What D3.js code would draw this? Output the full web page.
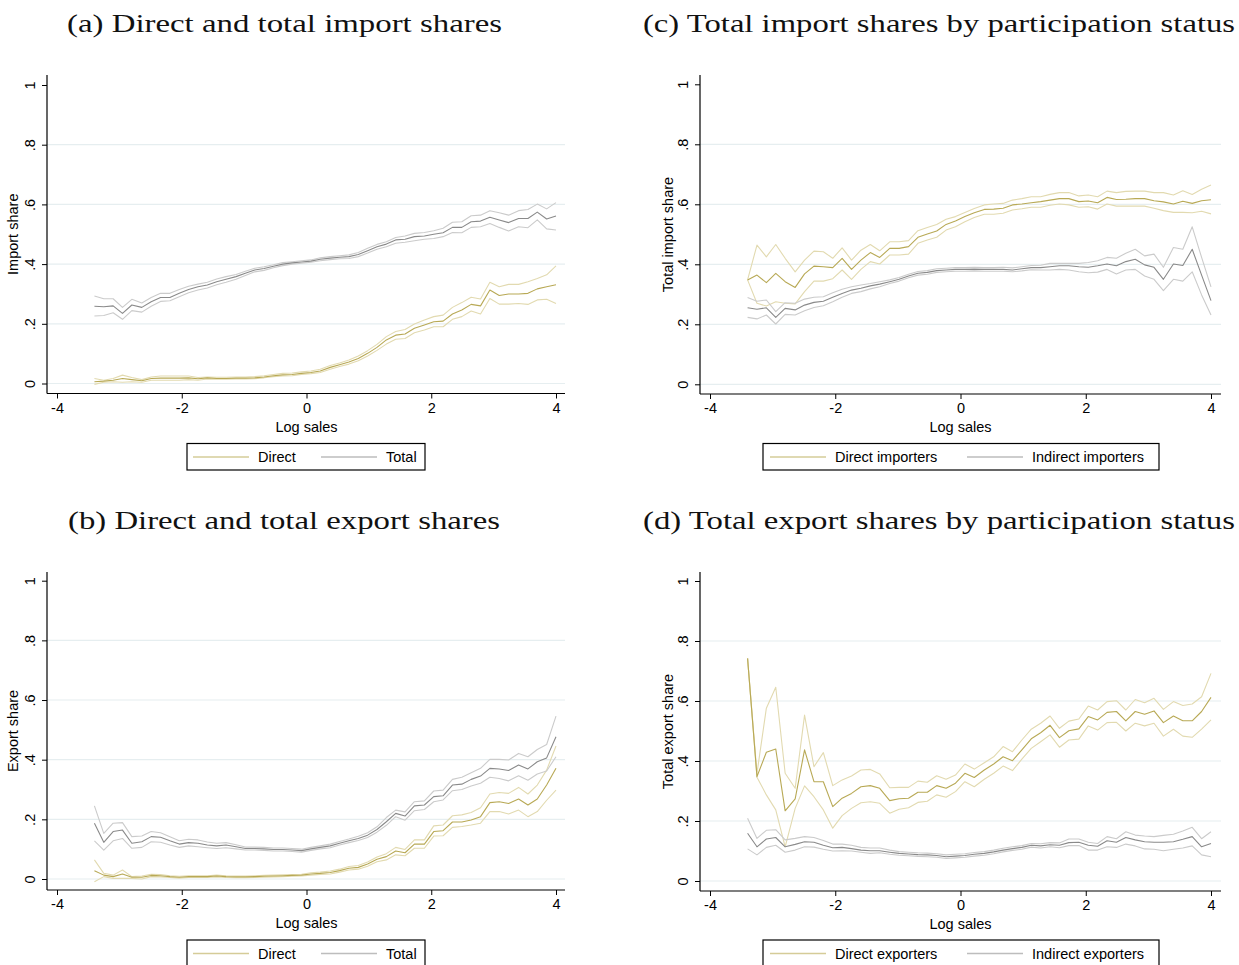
<!DOCTYPE html>
<html>
<head>
<meta charset="utf-8">
<script src="https://cdn.jsdelivr.net/npm/d3@7"></script>
<style>
  html, body { margin: 0; padding: 0; background: #ffffff; }
  svg { display: block; }
</style>
</head>
<body>
<svg id="fig" width="1239" height="965"></svg>
<script>
// Bin midpoints of log sales (50 bins)
const xs = [-3.40, -3.25, -3.10, -2.95, -2.80, -2.64, -2.49, -2.34, -2.19, -2.04,
            -1.89, -1.74, -1.59, -1.44, -1.29, -1.13, -0.98, -0.83, -0.68, -0.53,
            -0.38, -0.23, -0.08, 0.07, 0.22, 0.38, 0.53, 0.68, 0.83, 0.98,
            1.13, 1.28, 1.43, 1.58, 1.73, 1.89, 2.04, 2.19, 2.34, 2.49,
            2.64, 2.79, 2.94, 3.09, 3.24, 3.40, 3.55, 3.70, 3.85, 4.00];

// (a) Direct and total import shares
const aDirect = [0.006,0.008,0.011,0.017,0.013,0.009,0.017,0.018,0.018,0.018,
                 0.019,0.016,0.019,0.017,0.017,0.018,0.018,0.019,0.022,0.026,
                 0.029,0.030,0.034,0.037,0.042,0.054,0.063,0.072,0.084,0.101,
                 0.121,0.146,0.162,0.166,0.185,0.196,0.207,0.209,0.233,0.246,
                 0.265,0.260,0.313,0.295,0.300,0.300,0.302,0.317,0.324,0.331];
const aDirectHi = [0.017,0.011,0.017,0.028,0.020,0.013,0.022,0.025,0.025,0.025,
                   0.025,0.020,0.022,0.021,0.021,0.022,0.022,0.023,0.026,0.030,
                   0.034,0.035,0.039,0.042,0.048,0.060,0.069,0.079,0.092,0.110,
                   0.131,0.157,0.174,0.181,0.199,0.213,0.224,0.229,0.255,0.271,
                   0.289,0.283,0.339,0.324,0.332,0.332,0.341,0.352,0.364,0.394];
const aDirectLo = [-0.003,0.004,0.006,0.004,0.006,0.004,0.011,0.011,0.011,0.011,
                   0.013,0.011,0.015,0.014,0.014,0.015,0.015,0.016,0.019,0.023,
                   0.025,0.026,0.030,0.033,0.037,0.048,0.057,0.065,0.076,0.092,
                   0.111,0.132,0.148,0.151,0.170,0.179,0.190,0.190,0.215,0.224,
                   0.243,0.233,0.285,0.266,0.266,0.268,0.265,0.280,0.282,0.268];
const aTotal = [0.259,0.257,0.260,0.235,0.263,0.255,0.274,0.288,0.288,0.302,
                0.315,0.324,0.330,0.341,0.349,0.358,0.369,0.380,0.385,0.393,
                0.400,0.404,0.407,0.410,0.416,0.420,0.423,0.425,0.432,0.445,
                0.458,0.467,0.481,0.483,0.492,0.494,0.500,0.505,0.523,0.523,
                0.542,0.544,0.557,0.548,0.539,0.553,0.553,0.574,0.551,0.561];
const aTotalHi = [0.293,0.284,0.284,0.255,0.282,0.270,0.288,0.302,0.302,0.315,
                  0.326,0.333,0.339,0.350,0.358,0.365,0.376,0.386,0.391,0.398,
                  0.405,0.408,0.411,0.414,0.421,0.425,0.428,0.431,0.439,0.453,
                  0.466,0.475,0.489,0.494,0.503,0.506,0.512,0.520,0.540,0.542,
                  0.562,0.564,0.579,0.572,0.564,0.579,0.583,0.601,0.585,0.606];
const aTotalLo = [0.226,0.228,0.237,0.215,0.244,0.239,0.259,0.275,0.277,0.291,
                  0.304,0.313,0.320,0.331,0.339,0.349,0.362,0.374,0.379,0.388,
                  0.395,0.400,0.403,0.406,0.411,0.415,0.418,0.419,0.425,0.437,
                  0.450,0.458,0.470,0.473,0.478,0.483,0.486,0.492,0.506,0.505,
                  0.523,0.525,0.536,0.523,0.511,0.525,0.522,0.548,0.518,0.514];

// (b) Direct and total export shares
const bDirect = [0.028,0.013,0.008,0.017,0.006,0.006,0.012,0.011,0.008,0.006,
                 0.008,0.008,0.008,0.010,0.008,0.007,0.007,0.008,0.009,0.010,
                 0.011,0.012,0.013,0.017,0.019,0.022,0.028,0.036,0.039,0.050,
                 0.066,0.075,0.094,0.088,0.117,0.117,0.159,0.162,0.191,0.191,
                 0.198,0.209,0.256,0.259,0.253,0.268,0.248,0.268,0.315,0.371];
const bDirectHi = [0.064,0.019,0.013,0.030,0.008,0.010,0.016,0.015,0.011,0.009,
                   0.011,0.011,0.011,0.013,0.011,0.010,0.010,0.011,0.012,0.013,
                   0.014,0.015,0.016,0.021,0.023,0.027,0.033,0.042,0.045,0.057,
                   0.074,0.085,0.106,0.099,0.131,0.131,0.178,0.181,0.212,0.215,
                   0.223,0.239,0.285,0.290,0.287,0.307,0.285,0.315,0.365,0.446];
const bDirectLo = [-0.009,0.008,0.002,0.002,0.002,0.000,0.008,0.007,0.005,0.003,
                   0.005,0.005,0.005,0.007,0.005,0.004,0.004,0.005,0.006,0.007,
                   0.008,0.009,0.010,0.013,0.015,0.017,0.023,0.030,0.033,0.043,
                   0.058,0.064,0.081,0.078,0.103,0.103,0.144,0.145,0.173,0.176,
                   0.181,0.187,0.226,0.226,0.218,0.231,0.209,0.226,0.264,0.298];
const bTotal = [0.187,0.123,0.159,0.164,0.120,0.125,0.142,0.140,0.128,0.117,
                0.122,0.120,0.114,0.111,0.114,0.108,0.102,0.102,0.101,0.099,
                0.099,0.097,0.095,0.101,0.106,0.111,0.120,0.128,0.136,0.147,
                0.166,0.192,0.220,0.211,0.245,0.248,0.276,0.279,0.315,0.318,
                0.334,0.345,0.371,0.369,0.364,0.382,0.369,0.393,0.406,0.477];
const bTotalHi = [0.245,0.153,0.187,0.189,0.142,0.144,0.159,0.155,0.142,0.128,
                  0.133,0.131,0.124,0.120,0.122,0.115,0.107,0.107,0.106,0.104,
                  0.104,0.102,0.100,0.106,0.111,0.117,0.126,0.134,0.143,0.155,
                  0.175,0.206,0.231,0.225,0.259,0.262,0.295,0.298,0.334,0.341,
                  0.356,0.371,0.401,0.401,0.399,0.421,0.410,0.434,0.451,0.546];
const bTotalLo = [0.128,0.097,0.128,0.136,0.103,0.106,0.125,0.123,0.114,0.106,
                  0.111,0.108,0.105,0.102,0.105,0.101,0.097,0.097,0.096,0.094,
                  0.094,0.092,0.090,0.096,0.101,0.105,0.114,0.122,0.129,0.139,
                  0.157,0.180,0.209,0.197,0.229,0.233,0.259,0.265,0.296,0.300,
                  0.312,0.321,0.341,0.337,0.329,0.346,0.331,0.352,0.362,0.410];

// (c) Total import shares by participation status
const cDirect = [0.348,0.364,0.339,0.370,0.342,0.323,0.368,0.394,0.392,0.389,
                 0.420,0.383,0.414,0.439,0.423,0.453,0.453,0.459,0.490,0.501,
                 0.511,0.533,0.544,0.559,0.572,0.583,0.584,0.587,0.598,0.601,
                 0.605,0.609,0.614,0.619,0.619,0.609,0.611,0.605,0.623,0.616,
                 0.617,0.619,0.619,0.612,0.608,0.601,0.610,0.603,0.612,0.615];
const cDirectHi = [0.348,0.464,0.425,0.466,0.420,0.375,0.414,0.444,0.442,0.420,
                   0.455,0.414,0.447,0.466,0.445,0.475,0.475,0.479,0.512,0.523,
                   0.533,0.550,0.559,0.573,0.586,0.598,0.601,0.603,0.614,0.619,
                   0.625,0.625,0.633,0.639,0.639,0.628,0.631,0.625,0.644,0.639,
                   0.643,0.644,0.644,0.639,0.639,0.631,0.645,0.633,0.650,0.664];
const cDirectLo = [0.348,0.270,0.261,0.275,0.270,0.268,0.309,0.344,0.344,0.352,
                   0.381,0.350,0.383,0.409,0.401,0.431,0.431,0.434,0.470,0.481,
                   0.490,0.514,0.525,0.542,0.556,0.567,0.567,0.570,0.581,0.585,
                   0.590,0.590,0.597,0.601,0.598,0.590,0.592,0.584,0.601,0.594,
                   0.594,0.594,0.594,0.587,0.579,0.573,0.573,0.572,0.577,0.568];
const cIndirect = [0.255,0.250,0.255,0.223,0.253,0.248,0.264,0.273,0.277,0.290,
                   0.303,0.314,0.320,0.328,0.334,0.342,0.350,0.361,0.370,0.373,
                   0.379,0.381,0.383,0.383,0.384,0.383,0.383,0.383,0.381,0.385,
                   0.389,0.389,0.392,0.395,0.395,0.392,0.390,0.395,0.401,0.395,
                   0.409,0.417,0.398,0.390,0.350,0.401,0.396,0.450,0.364,0.279];
const cIndirectHi = [0.289,0.277,0.281,0.242,0.272,0.270,0.284,0.290,0.292,0.305,
                     0.317,0.325,0.331,0.336,0.342,0.348,0.356,0.367,0.376,0.379,
                     0.385,0.387,0.389,0.389,0.390,0.389,0.389,0.390,0.388,0.392,
                     0.396,0.397,0.403,0.403,0.403,0.403,0.406,0.412,0.423,0.420,
                     0.437,0.450,0.428,0.434,0.390,0.456,0.450,0.525,0.423,0.325];
const cIndirectLo = [0.223,0.218,0.231,0.201,0.233,0.231,0.245,0.256,0.262,0.275,
                     0.290,0.303,0.309,0.318,0.325,0.336,0.344,0.355,0.364,0.367,
                     0.373,0.375,0.377,0.377,0.378,0.377,0.377,0.377,0.375,0.378,
                     0.382,0.381,0.381,0.383,0.381,0.375,0.372,0.374,0.383,0.368,
                     0.381,0.383,0.361,0.350,0.312,0.350,0.344,0.375,0.298,0.231];

// (d) Total export shares by participation status
const dDirect = [0.742,0.348,0.429,0.440,0.234,0.274,0.437,0.331,0.331,0.248,
                 0.276,0.292,0.314,0.318,0.309,0.268,0.274,0.276,0.296,0.296,
                 0.318,0.309,0.326,0.359,0.345,0.370,0.390,0.414,0.401,0.437,
                 0.474,0.494,0.519,0.478,0.501,0.507,0.548,0.537,0.562,0.565,
                 0.534,0.565,0.556,0.567,0.528,0.550,0.534,0.534,0.565,0.612];
const dDirectHi = [0.742,0.359,0.576,0.646,0.359,0.309,0.553,0.381,0.428,0.318,
                   0.337,0.350,0.370,0.372,0.357,0.311,0.312,0.312,0.333,0.329,
                   0.351,0.339,0.353,0.390,0.373,0.394,0.414,0.448,0.431,0.470,
                   0.506,0.526,0.550,0.509,0.533,0.540,0.583,0.570,0.598,0.601,
                   0.570,0.605,0.594,0.609,0.572,0.598,0.585,0.590,0.614,0.692];
const dDirectLo = [0.742,0.346,0.287,0.237,0.114,0.242,0.317,0.281,0.237,0.176,
                   0.218,0.242,0.261,0.264,0.259,0.226,0.239,0.244,0.262,0.266,
                   0.287,0.279,0.298,0.331,0.314,0.339,0.359,0.383,0.368,0.406,
                   0.442,0.464,0.487,0.446,0.470,0.473,0.517,0.503,0.528,0.529,
                   0.500,0.526,0.517,0.526,0.483,0.506,0.483,0.479,0.506,0.537];
const dIndirect = [0.159,0.114,0.140,0.145,0.114,0.122,0.131,0.129,0.119,0.111,
                   0.112,0.108,0.103,0.101,0.101,0.096,0.092,0.090,0.088,0.087,
                   0.085,0.081,0.083,0.085,0.089,0.092,0.097,0.103,0.108,0.112,
                   0.119,0.117,0.121,0.119,0.128,0.129,0.119,0.116,0.134,0.129,
                   0.145,0.137,0.131,0.129,0.129,0.131,0.139,0.148,0.114,0.125];
const dIndirectHi = [0.209,0.142,0.169,0.171,0.137,0.142,0.148,0.145,0.135,0.123,
                     0.123,0.119,0.112,0.110,0.110,0.103,0.098,0.096,0.094,0.093,
                     0.091,0.087,0.089,0.091,0.095,0.098,0.103,0.109,0.114,0.118,
                     0.125,0.124,0.128,0.127,0.140,0.140,0.129,0.125,0.148,0.141,
                     0.164,0.153,0.150,0.148,0.152,0.156,0.167,0.179,0.141,0.164];
const dIndirectLo = [0.107,0.087,0.112,0.119,0.096,0.103,0.114,0.113,0.106,0.100,
                     0.101,0.100,0.096,0.092,0.094,0.089,0.086,0.084,0.082,0.081,
                     0.079,0.075,0.077,0.079,0.083,0.086,0.091,0.097,0.102,0.106,
                     0.113,0.110,0.114,0.111,0.118,0.118,0.103,0.103,0.114,0.112,
                     0.123,0.117,0.107,0.106,0.101,0.106,0.110,0.117,0.087,0.081];

// Axis ticks
const xTicks = [-4, -2, 0, 2, 4];
const yTicks = [0, 0.2, 0.4, 0.6, 0.8, 1];
const yTickLabels = ["0", ".2", ".4", ".6", ".8", "1"];
const gridTicks = [0, 0.2, 0.4, 0.6, 0.8];

const GOLD = "#b8a955", GOLD_CI = "#e2dab0", GOLD_KEY = "#d5cc98";
const GREY = "#8a8a8a", GREY_CI = "#cbcbcb", GREY_KEY = "#bdbdbd";
const SANS = "'Liberation Sans', Arial, Helvetica, sans-serif";
const SERIF = "'Liberation Serif', 'Times New Roman', serif";

const svg = d3.select("#fig");

function drawPanel(p) {
  const g = svg.append("g");
  const x = d3.scaleLinear().domain([-4, 4]).range(p.xRange);
  const y = d3.scaleLinear().domain([0, 1]).range(p.yRange);

  // title
  g.append("text")
    .attr("x", p.titleX).attr("y", p.titleY)
    .attr("font-family", SERIF).attr("font-size", 26)
    .attr("textLength", p.titleW).attr("lengthAdjust", "spacingAndGlyphs")
    .attr("fill", "#111").text(p.title);

  // horizontal grid
  g.selectAll("line.grid").data(gridTicks).join("line")
    .attr("class", "grid")
    .attr("x1", p.left).attr("x2", p.right)
    .attr("y1", d => y(d)).attr("y2", d => y(d))
    .attr("stroke", "#e6eef0").attr("stroke-width", 1.2);

  // series: confidence bounds then point estimate
  const line = vals => d3.line()
    .x((d, i) => x(xs[i]))
    .y(d => y(d))(vals);
  const series = [
    { v: p.s1Hi, c: GOLD_CI }, { v: p.s1Lo, c: GOLD_CI },
    { v: p.s2Hi, c: GREY_CI }, { v: p.s2Lo, c: GREY_CI },
    { v: p.s2, c: GREY }, { v: p.s1, c: GOLD }
  ];
  series.forEach(s => {
    g.append("path").attr("d", line(s.v))
      .attr("fill", "none").attr("stroke", s.c)
      .attr("stroke-width", 1.1).attr("stroke-linejoin", "round");
  });

  // y axis
  const ya = g.append("g").attr("transform", `translate(${p.left},0)`)
    .call(d3.axisLeft(y).tickValues(yTicks).tickSize(5).tickSizeOuter(0)
      .tickFormat((d, i) => yTickLabels[i]));
  ya.select(".domain").remove();
  ya.selectAll(".tick line").attr("stroke", "#000");
  ya.selectAll(".tick text")
    .attr("transform", "rotate(-90)")
    .attr("x", 0).attr("y", -12).attr("dy", 0)
    .attr("text-anchor", "middle")
    .attr("font-family", SANS).attr("font-size", 14.5).attr("fill", "#000");
  g.append("line").attr("x1", p.left).attr("x2", p.left)
    .attr("y1", p.top).attr("y2", p.bottom).attr("stroke", "#000").attr("stroke-width", 1.2);

  // x axis
  const xa = g.append("g").attr("transform", `translate(0,${p.bottom})`)
    .call(d3.axisBottom(x).tickValues(xTicks).tickSize(5).tickSizeOuter(0)
      .tickFormat(d => d < 0 ? "-" + Math.abs(d) : String(d)));
  xa.select(".domain").remove();
  xa.selectAll(".tick line").attr("stroke", "#000");
  xa.selectAll(".tick text")
    .attr("y", 9).attr("dy", "0.71em")
    .attr("font-family", SANS).attr("font-size", 14.5).attr("fill", "#000");
  g.append("line").attr("x1", p.left).attr("x2", p.right)
    .attr("y1", p.bottom).attr("y2", p.bottom).attr("stroke", "#000").attr("stroke-width", 1.2);

  // axis titles
  g.append("text")
    .attr("x", x(0)).attr("y", p.bottom + 38)
    .attr("text-anchor", "middle")
    .attr("font-family", SANS).attr("font-size", 14.5).attr("fill", "#000")
    .text("Log sales");
  g.append("text")
    .attr("transform", `translate(${p.yTitleX},${(p.top + p.bottom) / 2}) rotate(-90)`)
    .attr("text-anchor", "middle")
    .attr("font-family", SANS).attr("font-size", 14.5).attr("fill", "#000")
    .text(p.yTitle);

  // legend
  const lg = g.append("g").attr("transform", `translate(${p.legX},${p.legY})`);
  lg.append("rect").attr("x", 0).attr("y", 0)
    .attr("width", p.legW).attr("height", 26.5)
    .attr("fill", "#fff").attr("stroke", "#000").attr("stroke-width", 1.2);
  p.keys.forEach(k => {
    lg.append("line").attr("x1", k.x).attr("x2", k.x + 56)
      .attr("y1", 13.5).attr("y2", 13.5)
      .attr("stroke", k.c).attr("stroke-width", 1.6);
    lg.append("text").attr("x", k.tx).attr("y", 18.5)
      .attr("font-family", SANS).attr("font-size", 14.5).attr("fill", "#000")
      .text(k.label);
  });
}

drawPanel({
  title: "(a) Direct and total import shares", titleX: 67, titleY: 32, titleW: 435,
  left: 47, right: 565, top: 75, bottom: 393.5,
  xRange: [57, 556], yRange: [383.5, 85],
  yTitle: "Import share", yTitleX: 18,
  s1: aDirect, s1Lo: aDirectLo, s1Hi: aDirectHi,
  s2: aTotal, s2Lo: aTotalLo, s2Hi: aTotalHi,
  legX: 187, legY: 443.5, legW: 238,
  keys: [{ x: 6, tx: 71, c: GOLD_KEY, label: "Direct" },
         { x: 134, tx: 199, c: GREY_KEY, label: "Total" }]
});

drawPanel({
  title: "(c) Total import shares by participation status", titleX: 643, titleY: 32, titleW: 592,
  left: 700, right: 1221, top: 75, bottom: 394,
  xRange: [710, 1211], yRange: [384.3, 84.3],
  yTitle: "Total import share", yTitleX: 673,
  s1: cDirect, s1Lo: cDirectLo, s1Hi: cDirectHi,
  s2: cIndirect, s2Lo: cIndirectLo, s2Hi: cIndirectHi,
  legX: 763, legY: 443.5, legW: 396,
  keys: [{ x: 7, tx: 72, c: GOLD_KEY, label: "Direct importers" },
         { x: 204, tx: 269, c: GREY_KEY, label: "Indirect importers" }]
});

drawPanel({
  title: "(b) Direct and total export shares", titleX: 68, titleY: 529, titleW: 432,
  left: 47, right: 565, top: 572, bottom: 890,
  xRange: [57, 556], yRange: [879, 580.7],
  yTitle: "Export share", yTitleX: 18,
  s1: bDirect, s1Lo: bDirectLo, s1Hi: bDirectHi,
  s2: bTotal, s2Lo: bTotalLo, s2Hi: bTotalHi,
  legX: 187, legY: 940, legW: 238,
  keys: [{ x: 6, tx: 71, c: GOLD_KEY, label: "Direct" },
         { x: 134, tx: 199, c: GREY_KEY, label: "Total" }]
});

drawPanel({
  title: "(d) Total export shares by participation status", titleX: 643, titleY: 529, titleW: 592,
  left: 700, right: 1221, top: 572, bottom: 891,
  xRange: [710, 1211], yRange: [881, 581],
  yTitle: "Total export share", yTitleX: 673,
  s1: dDirect, s1Lo: dDirectLo, s1Hi: dDirectHi,
  s2: dIndirect, s2Lo: dIndirectLo, s2Hi: dIndirectHi,
  legX: 763, legY: 940, legW: 396,
  keys: [{ x: 7, tx: 72, c: GOLD_KEY, label: "Direct exporters" },
         { x: 204, tx: 269, c: GREY_KEY, label: "Indirect exporters" }]
});
</script>
</body>
</html>
